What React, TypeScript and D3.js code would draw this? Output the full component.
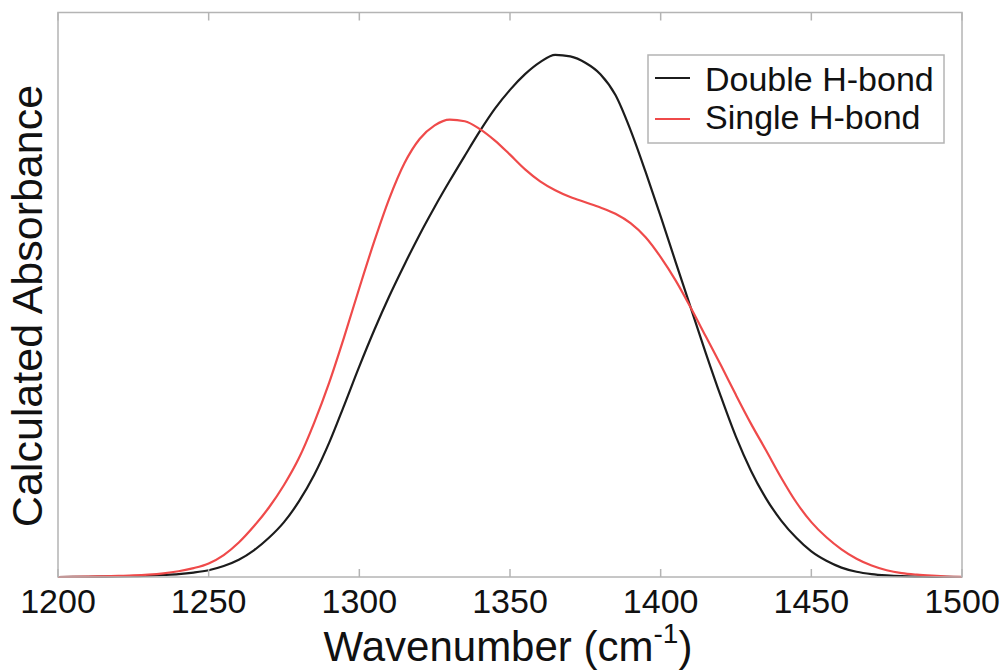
import React from "react";
import * as d3 from "d3";

const wavenumbers = [1200,1205,1210,1215,1220,1225,1230,1235,1240,1245,1250,1255,1260,1265,1270,1275,1280,1285,1290,1295,1300,1305,1310,1315,1320,1325,1330,1335,1340,1345,1350,1355,1360,1365,1370,1375,1380,1385,1390,1395,1400,1405,1410,1415,1420,1425,1430,1435,1440,1445,1450,1455,1460,1465,1470,1475,1480,1485,1490,1495,1500];

const doubleHBond = [0,0.0002,0.0004,0.0007,0.001,0.0016,0.0025,0.0038,0.0055,0.0085,0.013,0.021,0.033,0.051,0.075,0.105,0.145,0.195,0.257,0.329,0.403,0.473,0.538,0.598,0.655,0.708,0.758,0.806,0.853,0.896,0.932,0.962,0.985,0.999,0.996,0.984,0.962,0.922,0.855,0.775,0.69,0.602,0.515,0.428,0.345,0.268,0.203,0.15,0.108,0.075,0.049,0.031,0.018,0.01,0.0055,0.003,0.0015,0.0008,0.0004,0.0002,0];

const singleHBond = [0,0.0003,0.0008,0.0014,0.0022,0.003,0.0045,0.007,0.011,0.017,0.026,0.042,0.066,0.097,0.133,0.176,0.228,0.295,0.372,0.46,0.553,0.643,0.725,0.792,0.838,0.864,0.875,0.872,0.857,0.835,0.808,0.78,0.757,0.74,0.727,0.717,0.707,0.695,0.677,0.65,0.612,0.567,0.515,0.46,0.405,0.348,0.293,0.242,0.19,0.143,0.105,0.076,0.053,0.035,0.022,0.013,0.0075,0.0045,0.0025,0.001,0.0004];

const xTicks = [1200,1250,1300,1350,1400,1450,1500];
const seriesNames = ["Double H-bond","Single H-bond"];
const seriesColors = ["#1c1c1c","#ef4a4a"];

const FONT = "'Liberation Sans', Arial, Helvetica, sans-serif";

export default function App() {
  const left = 58, right = 962, top = 12.5, bottom = 577;
  const x = d3.scaleLinear().domain([1200,1500]).range([left,right]);
  const y = d3.scaleLinear().domain([0,1.08]).range([bottom,top]);
  const line = d3.line<number>()
    .x((_, i) => x(wavenumbers[i]))
    .y(d => y(d))
    .curve(d3.curveMonotoneX);
  const series = [doubleHBond, singleHBond];
  const frame = "#b4b4b4";
  return (
    <svg width={1005} height={670} style={{position:"absolute",left:0,top:0,background:"#fff"}}>
      <rect x={0} y={0} width={1005} height={670} fill="#fff" />
      {series.map((s,i)=>(
        <path key={i} d={line(s) || ""} fill="none" stroke={seriesColors[i]} strokeWidth={2.2} />
      ))}
      <rect x={left} y={top} width={right-left} height={bottom-top} fill="none" stroke={frame} strokeWidth={1.5} />
      {xTicks.map(t=>(
        <g key={t}>
          <line x1={x(t)} x2={x(t)} y1={bottom} y2={bottom-8} stroke={frame} strokeWidth={1.5} />
          <line x1={x(t)} x2={x(t)} y1={top} y2={top+8} stroke={frame} strokeWidth={1.5} />
          <text x={x(t)} y={613} textAnchor="middle" fontFamily={FONT} fontSize={34} fill="#111">{t}</text>
        </g>
      ))}
      <text x={(left+right)/2 - 2} y={661} textAnchor="middle" fontFamily={FONT} fontSize={42} fill="#111">
        Wavenumber (cm<tspan dy={-18} fontSize={28}>-1</tspan><tspan dy={18}>)</tspan>
      </text>
      <text transform={`translate(42,306) rotate(-90)`} textAnchor="middle" fontFamily={FONT} fontSize={43} fill="#111">Calculated Absorbance</text>
      <rect x={648} y={55} width={296} height={88} fill="#fff" stroke={frame} strokeWidth={1.5} />
      {seriesNames.map((n,i)=>(
        <g key={n}>
          <line x1={655} x2={690} y1={78+i*41} y2={78+i*41} stroke={seriesColors[i]} strokeWidth={2.2} />
          <text x={705} y={91+i*38} fontFamily={FONT} fontSize={34} fill="#111">{n}</text>
        </g>
      ))}
    </svg>
  );
}
